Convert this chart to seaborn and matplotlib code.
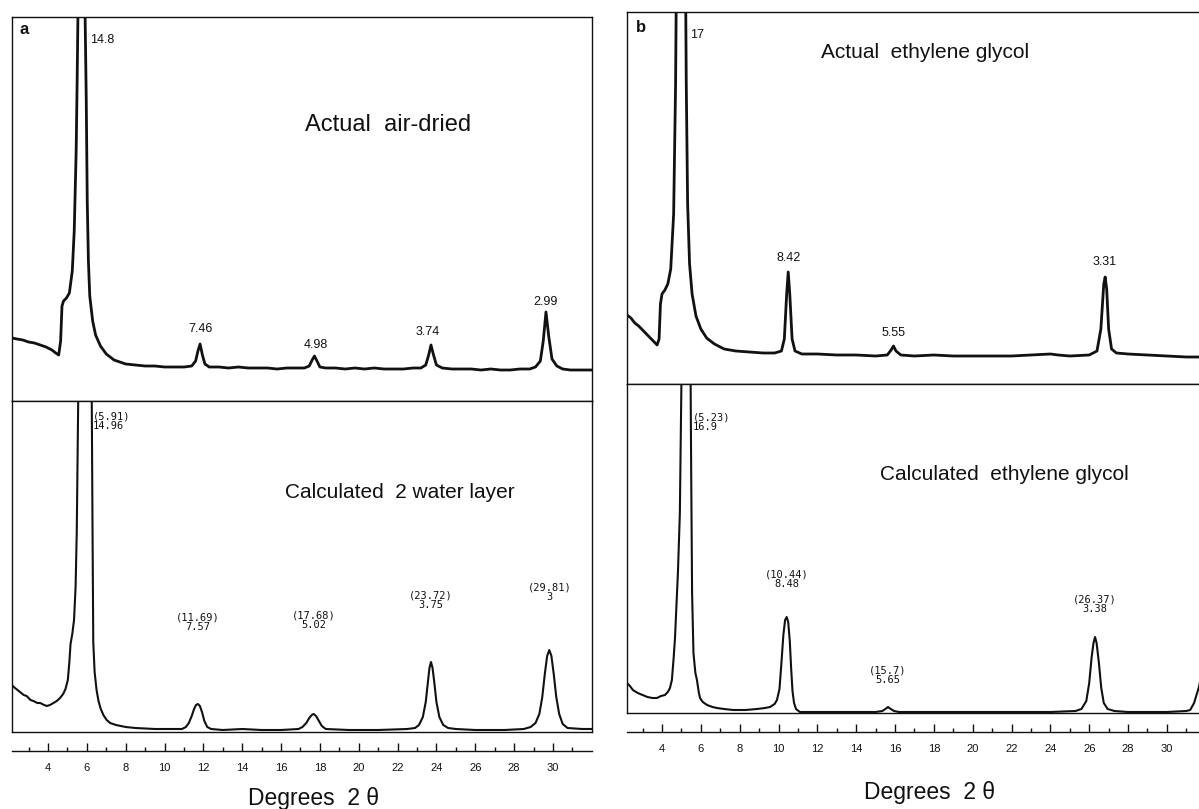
import numpy as np
import pandas as pd
import matplotlib
matplotlib.use("Agg")
import matplotlib.pyplot as plt
import seaborn as sns
from matplotlib.ticker import FixedLocator

# ---------------- data (2-theta degrees, relative intensity) ----------------
actual_air_dried = [
    (2.15, 63), (2.4, 62), (2.7, 61), (3.0, 59), (3.3, 58), (3.6, 56), (3.9, 54),
    (4.2, 51), (4.4, 48), (4.55, 46), (4.65, 60), (4.72, 95), (4.8, 100), (4.95, 103),
    (5.1, 108), (5.25, 130), (5.35, 170), (5.45, 250), (5.5, 320), (5.55, 400),
    (5.72, 1000), (5.9, 400), (5.97, 300), (6.02, 200), (6.08, 140), (6.15, 105),
    (6.3, 80), (6.45, 66), (6.7, 55), (7.0, 47), (7.4, 41), (8.0, 37), (8.5, 36),
    (9.0, 35), (9.5, 35), (10.0, 34), (10.5, 34), (11.0, 34), (11.4, 35), (11.6, 40),
    (11.72, 50), (11.83, 57), (11.95, 46), (12.08, 37), (12.3, 34), (12.8, 34),
    (13.3, 33), (13.8, 34), (14.3, 33), (14.8, 33), (15.3, 33), (15.8, 32), (16.3, 33),
    (16.8, 33), (17.2, 33), (17.45, 35), (17.6, 41), (17.72, 45), (17.85, 40),
    (18.0, 34), (18.3, 33), (18.8, 33), (19.3, 32), (19.8, 33), (20.3, 32), (20.8, 33),
    (21.3, 32), (21.8, 32), (22.3, 32), (22.8, 33), (23.2, 33), (23.45, 36), (23.6, 46),
    (23.72, 56), (23.85, 46), (24.0, 36), (24.3, 33), (24.8, 32), (25.3, 32), (25.8, 32),
    (26.3, 31), (26.8, 32), (27.3, 31), (27.8, 31), (28.3, 32), (28.8, 32), (29.1, 34),
    (29.35, 40), (29.5, 60), (29.64, 89), (29.78, 65), (29.95, 42), (30.2, 35),
    (30.5, 32), (30.9, 31), (31.4, 31), (32.0, 31),
]
calc_2_water = [
    (2.13, 47), (2.3, 44), (2.56, 40), (2.75, 37), (2.9, 36), (3.1, 32), (3.25, 31),
    (3.45, 29), (3.6, 29), (3.8, 27), (3.94, 26), (4.1, 27), (4.28, 29), (4.45, 31),
    (4.62, 34), (4.78, 38), (4.9, 43), (5.02, 52), (5.1, 70), (5.16, 88), (5.25, 98),
    (5.34, 112), (5.42, 145), (5.48, 200), (5.52, 270), (5.56, 340), (5.65, 700),
    (5.91, 1000), (6.18, 700), (6.25, 340), (6.29, 210), (6.33, 90), (6.4, 60),
    (6.5, 42), (6.6, 31), (6.7, 24), (6.85, 17), (7.02, 12), (7.2, 9), (7.5, 7),
    (8.0, 5), (8.5, 4), (9.5, 3), (10.5, 3), (10.9, 3), (11.1, 5), (11.25, 9),
    (11.4, 16), (11.52, 23), (11.62, 27), (11.72, 28), (11.82, 26), (11.93, 20),
    (12.05, 11), (12.2, 5), (12.4, 3), (13.0, 2), (14.0, 3), (15.0, 2), (16.0, 2),
    (16.9, 3), (17.1, 5), (17.3, 9), (17.45, 14), (17.58, 17), (17.68, 18), (17.8, 16),
    (17.95, 11), (18.1, 6), (18.3, 3), (19.5, 2), (21.0, 2), (22.5, 3), (22.9, 4),
    (23.1, 7), (23.3, 15), (23.45, 30), (23.55, 48), (23.64, 64), (23.72, 70),
    (23.8, 64), (23.9, 48), (24.0, 30), (24.15, 15), (24.35, 7), (24.6, 4), (25.0, 3),
    (26.0, 2), (27.5, 2), (28.5, 3), (28.85, 5), (29.1, 9), (29.3, 18), (29.45, 35),
    (29.58, 58), (29.7, 76), (29.81, 82), (29.92, 76), (30.04, 58), (30.17, 35),
    (30.32, 18), (30.5, 8), (30.75, 4), (31.5, 3), (32.0, 3),
]
actual_glycol = [
    (2.2, 69), (2.4, 66), (2.6, 61), (2.8, 58), (3.0, 54), (3.2, 50), (3.4, 46),
    (3.6, 42), (3.75, 39), (3.85, 45), (3.92, 80), (4.0, 90), (4.15, 94), (4.3, 100),
    (4.45, 115), (4.6, 170), (4.7, 300), (4.78, 500), (4.98, 1000), (5.18, 500),
    (5.25, 300), (5.32, 180), (5.42, 120), (5.55, 90), (5.75, 68), (6.0, 55),
    (6.3, 46), (6.7, 40), (7.2, 35), (7.8, 33), (8.5, 32), (9.2, 31), (9.8, 31),
    (10.15, 33), (10.3, 45), (10.42, 90), (10.5, 112), (10.58, 90), (10.7, 45),
    (10.85, 33), (11.2, 30), (12.0, 30), (13.0, 29), (14.0, 29), (15.0, 28),
    (15.6, 29), (15.8, 34), (15.92, 38), (16.05, 33), (16.3, 29), (17.0, 28),
    (18.0, 29), (19.0, 28), (20.0, 28), (21.0, 28), (22.0, 28), (23.0, 29), (24.0, 30),
    (24.4, 29), (25.0, 28), (26.0, 29), (26.4, 33), (26.6, 55), (26.75, 100),
    (26.82, 107), (26.9, 95), (27.0, 55), (27.15, 35), (27.4, 31), (28.0, 30),
    (29.0, 29), (30.0, 28), (31.0, 27), (32.2, 27),
]
calc_glycol = [
    (2.2, 30), (2.35, 27), (2.5, 23), (2.75, 20), (3.0, 18), (3.25, 16), (3.5, 15),
    (3.74, 15), (3.95, 17), (4.15, 18), (4.3, 21), (4.41, 25), (4.51, 33), (4.6, 55),
    (4.67, 75), (4.75, 110), (4.82, 140), (4.92, 200), (5.0, 330), (5.05, 500),
    (5.23, 1000), (5.42, 500), (5.5, 250), (5.55, 120), (5.62, 60), (5.72, 40),
    (5.8, 33), (5.9, 20), (5.96, 15), (6.1, 11), (6.32, 8), (6.6, 6), (6.83, 5),
    (7.2, 4), (7.66, 3), (8.3, 3), (8.89, 4), (9.3, 5), (9.56, 6), (9.8, 9),
    (9.92, 13), (10.05, 24), (10.15, 50), (10.25, 78), (10.34, 93), (10.42, 96),
    (10.5, 91), (10.58, 72), (10.65, 45), (10.72, 22), (10.8, 10), (10.9, 4),
    (11.1, 1), (12.0, 1), (13.0, 1), (14.0, 1), (15.0, 1), (15.35, 2), (15.5, 4),
    (15.64, 6), (15.78, 4), (15.95, 2), (16.2, 1), (18.0, 1), (20.0, 1), (22.0, 1),
    (24.0, 1), (25.3, 2), (25.6, 4), (25.85, 12), (26.0, 30), (26.12, 55), (26.22, 70),
    (26.3, 76), (26.38, 70), (26.5, 50), (26.62, 25), (26.75, 10), (26.95, 4),
    (27.3, 2), (28.0, 1), (29.0, 1), (30.0, 1), (31.0, 2), (31.2, 3), (31.4, 10),
    (31.65, 26), (31.9, 50), (32.2, 70),
]

tick_major = [4, 6, 8, 10, 12, 14, 16, 18, 20, 22, 24, 26, 28, 30]
tick_minor = [3, 5, 7, 9, 11, 13, 15, 17, 19, 21, 23, 25, 27, 29, 31]

# peak labels: (text, 2theta, intensity)
labels_air = [("7.46", 11.83, 72), ("4.98", 17.8, 56), ("3.74", 23.57, 69), ("2.99", 29.64, 99)]
labels_calc_a = [("(11.69)\n7.57", 11.69, 110), ("(17.68)\n5.02", 17.68, 112),
                 ("(23.72)\n3.75", 23.72, 132), ("(29.81)\n3", 29.81, 140)]
labels_glycol = [("8.42", 10.54, 126), ("5.55", 15.9, 51), ("3.31", 26.78, 122)]
labels_calc_b = [("(10.44)\n8.48", 10.44, 134), ("(15.7)\n5.65", 15.64, 38),
                 ("(26.37)\n3.38", 26.3, 109)]

# ---------------- style ----------------
sns.set_theme(style="white")
plt.rcParams['font.family'] = ['Liberation Sans', 'DejaVu Sans']
W, H = 1199, 809
fig = plt.figure(figsize=(W / 100, H / 100), dpi=100)
fig.patch.set_facecolor("white")
INK = "#111111"
MONO = ['DejaVu Sans Mono']


def ax_px(l, t, r, b):
    return fig.add_axes([l / W, 1 - b / H, (r - l) / W, (b - t) / H])


def frame(ax, x0, x1, h):
    ax.set_xlim(x0, x1)
    ax.set_ylim(0, h)
    ax.set_xticks([]); ax.set_yticks([])
    ax.set_xlabel(""); ax.set_ylabel("")
    for s in ax.spines.values():
        s.set_visible(True); s.set_color(INK); s.set_linewidth(1.0)
    ax.set_facecolor("white")


def curve(ax, pts, lw):
    df = pd.DataFrame(pts, columns=["two_theta", "intensity"])
    sns.lineplot(data=df, x="two_theta", y="intensity", ax=ax, color=INK,
                 linewidth=lw, sort=False, estimator=None)


def scale_axis(l, r, y, x0, x1):
    ax = ax_px(l, y - 12, r, y)
    ax.set_xlim(x0, x1)
    ax.set_ylim(0, 1)
    for k in ("top", "left", "right"):
        ax.spines[k].set_visible(False)
    ax.spines["bottom"].set_color(INK); ax.spines["bottom"].set_linewidth(1.0)
    ax.patch.set_alpha(0)
    ax.set_yticks([])
    ax.xaxis.set_major_locator(FixedLocator(tick_major))
    ax.xaxis.set_minor_locator(FixedLocator(tick_minor))
    ax.set_xticklabels([str(t) for t in tick_major])
    ax.tick_params(axis="x", which="major", direction="in", length=5.8, width=1,
                   color=INK, pad=8.5, labelsize=8, labelcolor=INK, bottom=True)
    ax.tick_params(axis="x", which="minor", direction="in", length=2.9, width=1,
                   color=INK, bottom=True)
    return ax


panels = [
    dict(l=12, r=592, top=17, mid=401, bot=732, axis=751, x0=2.146, x1=32.01,
         up=actual_air_dried, lo=calc_2_water, lab_up=labels_air, lab_lo=labels_calc_a,
         letter="a", letter_xy=(20, 29), main_up=("14.8", 90, 40), main_lo=("(5.91)\n14.96", 93, 421),
         t_up=("Actual  air-dried", 388, 125, 17), t_lo=("Calculated  2 water layer", 400, 492, 15),
         deg_xy=(314, 798)),
    dict(l=627, r=1210, top=12, mid=384, bot=713, axis=732, x0=2.198, x1=32.22,
         up=actual_glycol, lo=calc_glycol, lab_up=labels_glycol, lab_lo=labels_calc_b,
         letter="b", letter_xy=(636, 27), main_up=("17", 690, 35), main_lo=("(5.23)\n16.9", 693, 422),
         t_up=("Actual  ethylene glycol", 925, 52, 15), t_lo=("Calculated  ethylene glycol", 1004, 474, 15),
         deg_xy=(930, 792)),
]

for p in panels:
    hu = p["mid"] - p["top"]
    hl = p["bot"] - p["mid"]
    ax_u = ax_px(p["l"], p["top"], p["r"], p["mid"])
    ax_l = ax_px(p["l"], p["mid"], p["r"], p["bot"])
    curve(ax_u, p["up"], 2.0)
    curve(ax_l, p["lo"], 1.5)
    frame(ax_u, p["x0"], p["x1"], hu)
    frame(ax_l, p["x0"], p["x1"], hl)
    for txt, x, y in p["lab_up"]:
        ax_u.text(x, y, txt, ha="center", va="center", fontsize=9, color=INK)
    for txt, x, y in p["lab_lo"]:
        ax_l.text(x, y, txt, ha="center", va="center", fontsize=7.5, color=INK,
                  family=MONO, linespacing=0.95)
    scale_axis(p["l"], p["r"], p["axis"], p["x0"], p["x1"])
    # figure-pixel texts
    lx, ly = p["letter_xy"]
    fig.text(lx / W, 1 - ly / H, p["letter"], fontsize=12, fontweight="bold",
             ha="left", va="center", color=INK)
    t, x, y = p["main_up"]
    fig.text(x / W, 1 - y / H, t, fontsize=9, ha="left", va="center", color=INK)
    t, x, y = p["main_lo"]
    fig.text(x / W, 1 - y / H, t, fontsize=7.5, ha="left", va="center", color=INK,
             family=MONO, linespacing=0.95)
    for key in ("t_up", "t_lo"):
        t, x, y, fs = p[key]
        fig.text(x / W, 1 - y / H, t, fontsize=fs, ha="center", va="center", color=INK)
    dx, dy = p["deg_xy"]
    fig.text(dx / W, 1 - dy / H, "Degrees  2 θ", fontsize=16.5, ha="center", va="center",
             color=INK)

fig.savefig("out.png", dpi=100, facecolor="white")
